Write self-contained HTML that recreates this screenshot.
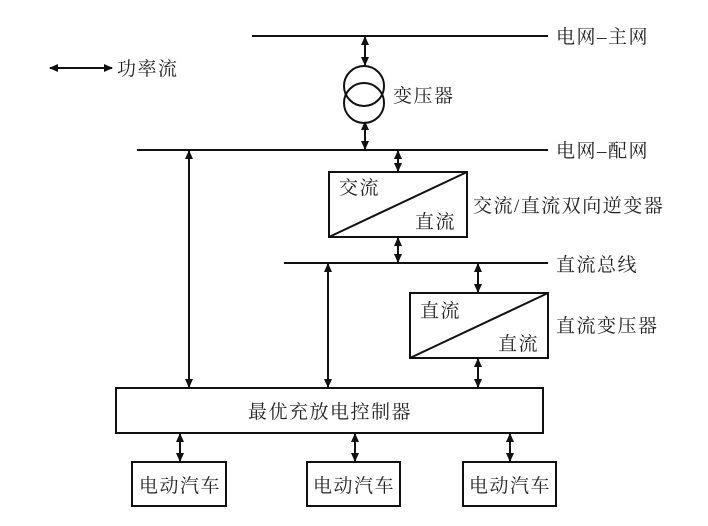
<!DOCTYPE html>
<html><head><meta charset="utf-8"><style>
html,body{margin:0;padding:0;background:#fff;}
svg{display:block;}
text{font-family:"Liberation Serif","Noto Serif CJK SC",serif;font-size:19px;fill:#222;letter-spacing:1.5px;}
</style></head><body>
<svg width="708" height="526" viewBox="0 0 708 526" xmlns="http://www.w3.org/2000/svg">
<defs>
<marker id="a" markerWidth="10" markerHeight="10" refX="8" refY="5" orient="auto-start-reverse" markerUnits="userSpaceOnUse">
<path d="M0,1 L9,5 L0,9 z" fill="#111"/>
</marker>
</defs>
<g stroke="#111" stroke-width="2" fill="none">
<line x1="252" y1="36" x2="548" y2="36"/>
<line x1="137" y1="150" x2="548" y2="150"/>
<line x1="284" y1="263" x2="548" y2="263"/>
<circle cx="364" cy="86" r="20"/>
<circle cx="364" cy="103" r="20"/>
<rect x="329" y="172" width="138" height="65"/>
<line x1="329" y1="237" x2="467" y2="172"/>
<rect x="410" y="293" width="138" height="65"/>
<line x1="410" y1="358" x2="548" y2="293"/>
<rect x="116" y="388" width="427" height="45"/>
<rect x="132" y="462" width="94" height="44"/>
<rect x="307" y="462" width="93" height="44"/>
<rect x="463" y="462" width="93" height="44"/>
<g marker-start="url(#a)" marker-end="url(#a)">
<line x1="50" y1="68" x2="112" y2="68"/>
<line x1="365" y1="37" x2="365" y2="65"/>
<line x1="365" y1="122" x2="365" y2="149"/>
<line x1="398" y1="151" x2="398" y2="171"/>
<line x1="398" y1="238" x2="398" y2="262"/>
<line x1="478" y1="264" x2="478" y2="292"/>
<line x1="478" y1="359" x2="478" y2="387"/>
<line x1="189" y1="151" x2="189" y2="387"/>
<line x1="328" y1="264" x2="328" y2="387"/>
<line x1="180" y1="434" x2="180" y2="461"/>
<line x1="355" y1="434" x2="355" y2="461"/>
<line x1="510" y1="434" x2="510" y2="461"/>
</g>
</g>
<text x="117" y="75">功率流</text>
<text x="556" y="43">电网–主网</text>
<text x="393" y="102">变压器</text>
<text x="556" y="157">电网–配网</text>
<text x="339" y="194">交流</text>
<text x="415" y="228">直流</text>
<text x="473" y="212">交流/直流双向逆变器</text>
<text x="556" y="271">直流总线</text>
<text x="420" y="317">直流</text>
<text x="498" y="350">直流</text>
<text x="556" y="332">直流变压器</text>
<text x="330" y="418" text-anchor="middle">最优充放电控制器</text>
<text x="180" y="492" text-anchor="middle">电动汽车</text>
<text x="354" y="492" text-anchor="middle">电动汽车</text>
<text x="510" y="492" text-anchor="middle">电动汽车</text>
</svg>
</body></html>
